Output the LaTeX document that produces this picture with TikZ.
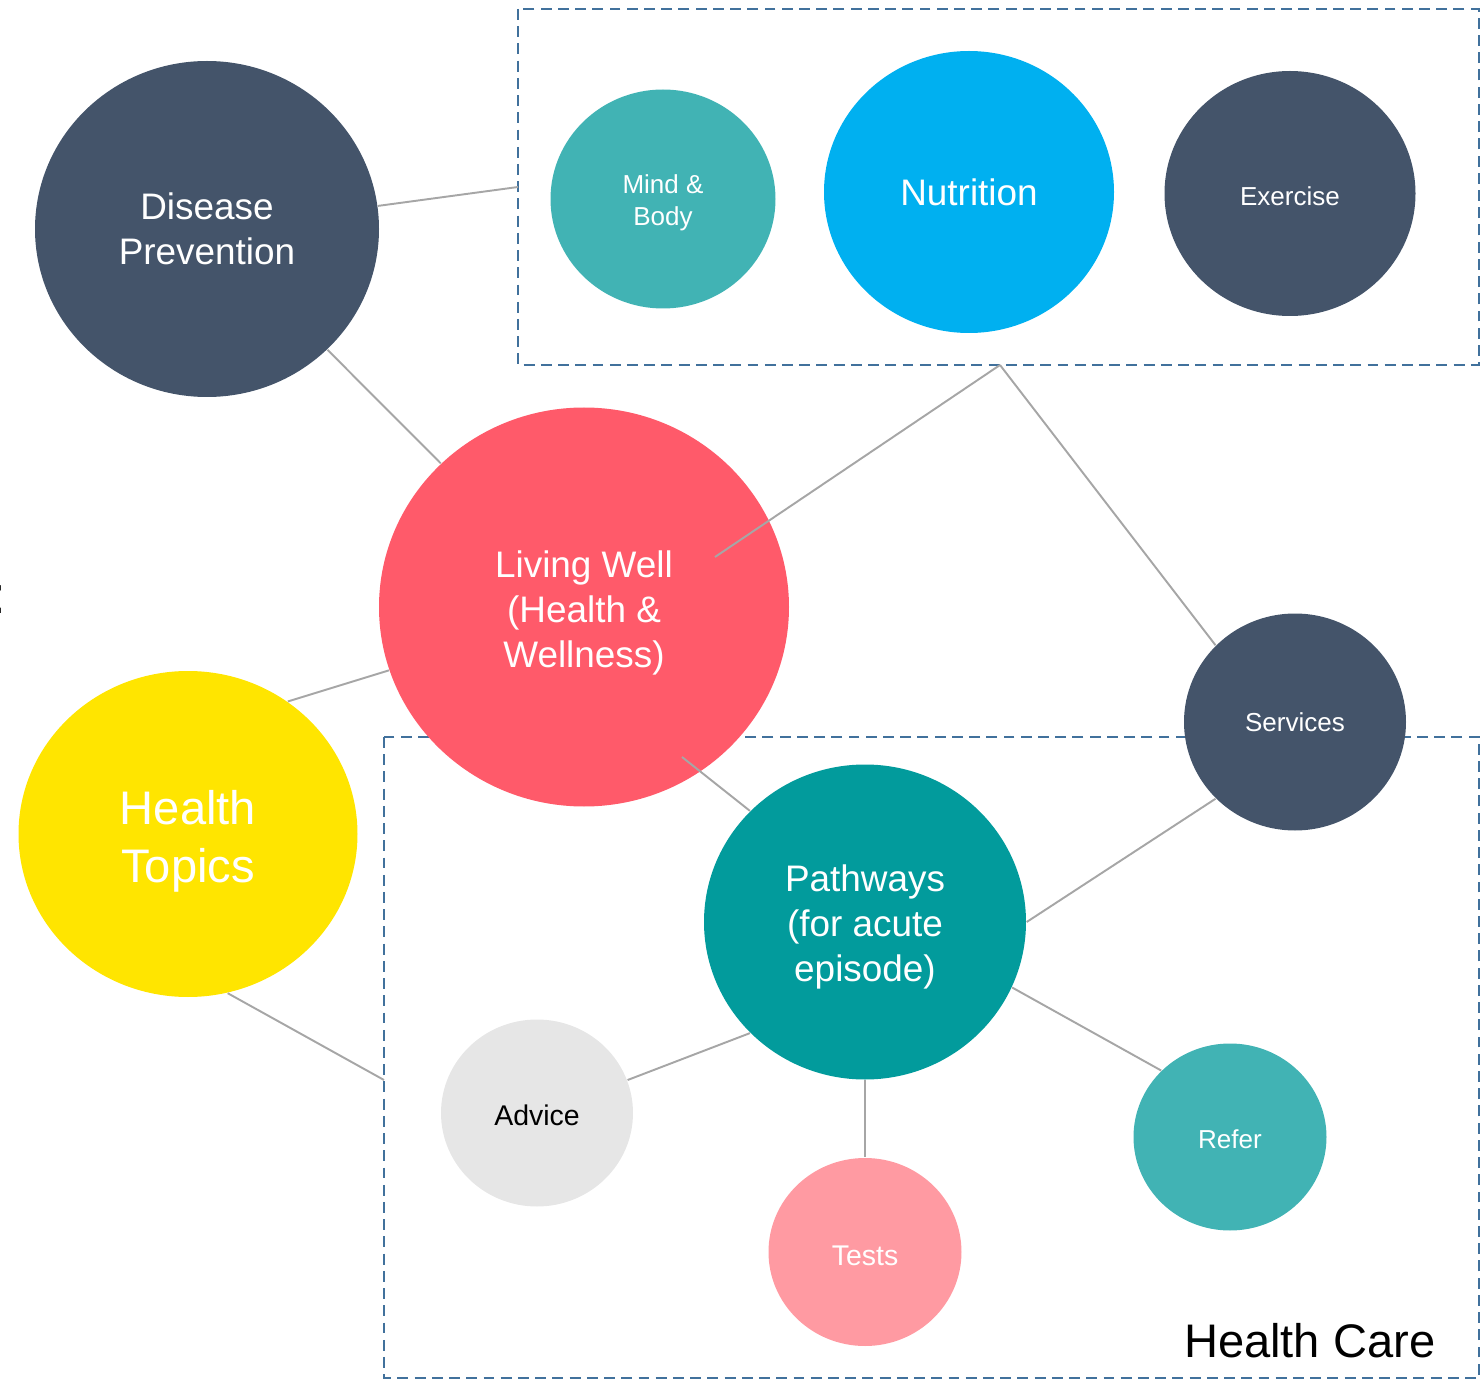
\documentclass[tikz,border=0pt]{standalone}
\usepackage{fontspec}
\setmainfont{Liberation Sans}
\usetikzlibrary{shapes.geometric,positioning}
\usepackage{xcolor}
\definecolor{slate}{HTML}{44546A}
\definecolor{seafoam}{HTML}{41B3B4}
\definecolor{skyblue}{HTML}{00B0F0}
\definecolor{coral}{HTML}{FF5A6A}
\definecolor{sun}{HTML}{FFE500}
\definecolor{deepteal}{HTML}{029B9C}
\definecolor{mist}{HTML}{E6E6E6}
\definecolor{blush}{HTML}{FF9AA2}
\definecolor{linkgray}{HTML}{A6A6A6}
\definecolor{boxblue}{HTML}{41719C}
\newcommand{\smalltxt}{\fontsize{7.4}{9.1}\selectfont}
\newcommand{\midtxt}{\fontsize{8.1}{9.8}\selectfont}
\newcommand{\bigtxt}{\fontsize{10.5}{12.8}\selectfont}
\newcommand{\hugetxt}{\fontsize{13.4}{16.5}\selectfont}
\newcommand{\padtop}[1]{\rule{0pt}{#1}}

\begin{document}
\begin{tikzpicture}[on grid,
		bubble/.style={ellipse,inner sep=0pt,text=white,align=center},
		link/.style={draw=linkgray,line width=0.55pt},
		group/.style={draw=boxblue,line width=0.8pt,dash pattern=on 3.1pt off 1.8pt}]
		\useasboundingbox (0,0) rectangle (14.80,-13.80);
		\draw[group] (5.18,-0.09) rectangle (14.79,-3.65);
		\draw[group] (3.84,-7.37) rectangle (14.79,-13.78);
		\node[bubble,fill=slate,minimum width=3.44cm,minimum height=3.36cm,font=\bigtxt] (dp) at (2.07,-2.29) {Disease\\Prevention};
		\node[bubble,fill=seafoam,minimum width=2.25cm,minimum height=2.19cm,font=\smalltxt] (mind) at (6.63,-1.99) {\padtop{7.7pt}Mind \&\\Body};
		\node[bubble,fill=skyblue,minimum width=2.90cm,minimum height=2.82cm,font=\bigtxt] (nut) [above right=0.07cm and 3.06cm of mind] {Nutrition};
		\node[bubble,fill=slate,minimum width=2.51cm,minimum height=2.45cm,font=\smalltxt] (ex) [below right=0.015cm and 3.21cm of nut] {\padtop{7.0pt}Exercise};
		\node[bubble,fill=coral,minimum width=4.10cm,minimum height=3.99cm,font=\bigtxt] (lw) at (5.84,-6.07) {\padtop{10.9pt}Living Well\\(Health \&\\Wellness)};
		\node[bubble,fill=sun,minimum width=3.39cm,minimum height=3.26cm,font=\hugetxt] (ht) at (1.88,-8.34) {\padtop{13.9pt}Health\\Topics};
		\node[bubble,fill=slate,minimum width=2.22cm,minimum height=2.17cm,font=\smalltxt] (serv) at (12.95,-7.22) {Services};
		\node[bubble,fill=deepteal,minimum width=3.22cm,minimum height=3.15cm,font=\bigtxt] (path) at (8.65,-9.22) {\padtop{10.65pt}Pathways\\(for acute\\episode)};
		\node[bubble,fill=mist,text=black,minimum width=1.92cm,minimum height=1.87cm,font=\midtxt] (adv) at (5.37,-11.13) {\padtop{6.95pt}Advice};
		\node[bubble,fill=blush,minimum width=1.93cm,minimum height=1.88cm,font=\midtxt] (tests) [below=3.30cm of path] {\padtop{7.5pt}Tests};
		\node[bubble,fill=seafoam,minimum width=1.93cm,minimum height=1.87cm,font=\smalltxt] (refer) at (12.30,-11.37) {\padtop{6.45pt}Refer};
		\coordinate (topW) at (5.18,-1.87);
		\coordinate (topS) at (10.00,-3.65);
		\coordinate (botW) at (3.84,-10.80);
		\coordinate (lwA) at (7.15,-5.57);
		\coordinate (lwB) at (6.82,-7.57);
		\path[link]
		(dp) edge (topW)
		(dp) edge (lw)
		(lwA) edge (topS)
		(topS) edge (serv.136)
		(lw.198.7) edge (ht.53.5)
		(lwB) edge (path.136)
		(ht.-76) edge (botW)
		(path.0) edge (serv.224)
		(path.224.5) edge (adv.20)
		(path) edge (tests)
		(path.-24) edge (refer.136);
		\node[anchor=base east,inner sep=0pt,font=\hugetxt] (care) at (14.36,-13.57) {Health Care};
		\node[anchor=base east,inner sep=0pt,font=\fontsize{15}{18}\selectfont] (colon) at (0.07,-6.14) {:};
\end{tikzpicture}
\end{document}
